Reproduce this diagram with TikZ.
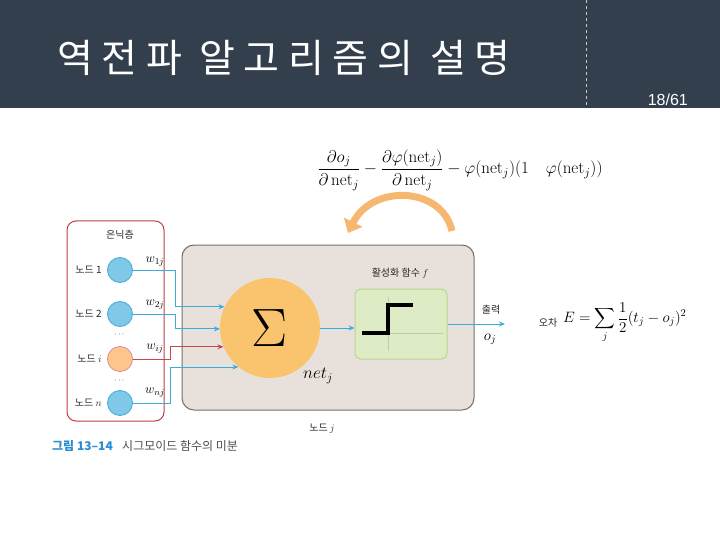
\RequirePackage{fix-cm}
\documentclass[tikz,border=0pt]{standalone}
\usepackage{fontspec}
\usepackage{amsmath}
\setsansfont{Liberation Sans}
\newfontfamily\kr{Noto Sans CJK KR}
\newfontfamily\krwide[LetterSpace=22]{Noto Sans CJK KR}
\usetikzlibrary{arrows.meta,positioning}
\definecolor{slate}{RGB}{52,63,77}
\definecolor{linkblue}{RGB}{60,170,218}
\definecolor{linkred}{RGB}{196,72,72}
\definecolor{hidred}{RGB}{190,62,72}
\definecolor{bodyfill}{RGB}{232,225,219}
\definecolor{bodydraw}{RGB}{120,110,100}
\definecolor{sumfill}{RGB}{250,196,110}
\definecolor{actfill}{RGB}{221,236,196}
\definecolor{actdraw}{RGB}{185,215,140}
\definecolor{arcorange}{RGB}{246,183,112}
\definecolor{capblue}{RGB}{40,140,210}

\tikzset{
  unit/.style={circle, minimum size=25pt, inner sep=0pt, draw=linkblue, fill=linkblue!65, line width=0.8pt},
  unitsel/.style={unit, draw=hidred!60, fill=orange!45},
  lbl/.style={font=\kr\fontsize{10}{12}\selectfont, text=black!85},
  wt/.style={font=\fontsize{13}{15}\selectfont},
  link/.style={linkblue, line width=0.9pt, -{Stealth[length=6pt,width=5pt]}},
  linkr/.style={link, linkred}
}

\begin{document}
\begin{tikzpicture}[x=1pt,y=-1pt]
\useasboundingbox (0,0) rectangle (720,540);
% header
\fill[slate] (0,0) rectangle (720,108);
\draw[dashed, white!70!slate] (586,0) -- (586,108);
\node[anchor=west, text=white, font=\krwide\fontsize{39}{41}\selectfont, inner sep=0pt] (title) at (57,58) {역전파 알고리즘의 설명};
\node[anchor=base east, text=white, font=\sffamily\fontsize{16}{18}\selectfont, inner sep=0pt] (page) at (688,106) {18/61};

% derivative
\node[font=\fontsize{17}{19}\selectfont] (deriv) at (460,170)
  {$\dfrac{\partial o_j}{\partial\,\mathrm{net}_j} - \dfrac{\partial\varphi(\mathrm{net}_j)}{\partial\,\mathrm{net}_j} - \varphi(\mathrm{net}_j)(1\quad \varphi(\mathrm{net}_j))$};
\coordinate (arcS) at (452,231);
\coordinate (arcE) at (348,233);
\draw[arcorange, line width=7pt, -{Triangle[length=12pt,width=20pt]}] (arcS) .. controls (442,186) and (372,184) .. (arcE);

% hidden layer
\draw[hidred, line width=1pt, rounded corners=9pt] (67,221) rectangle (164,421);
\node[lbl] (hid) at (120,235) {은닉층};
\node[unit] (n1) at (120,270) {};
\node[unit] (n2) at (120,314) {};
\node[unitsel] (ni) at (120,359) {};
\node[unit] (nn) at (120,403) {};
\node[lbl, left=2pt of n1] (l1) {노드 1};
\node[lbl, left=2pt of n2] (l2) {노드 2};
\node[lbl, left=2pt of ni] (li) {노드 $i$};
\node[lbl, left=2pt of nn] (ln) {노드 $n$};
\node[font=\footnotesize] (d1) at (120,335) {$\cdots$};
\node[font=\footnotesize] (d2) at (120,381) {$\cdots$};
\node[wt] (w1) at (155,262) {$w_{1j}$};
\node[wt] (w2) at (155,305) {$w_{2j}$};
\node[wt] (wi) at (155,349) {$w_{ij}$};
\node[wt] (wn) at (155,393) {$w_{nj}$};

% node j
\draw[bodydraw, fill=bodyfill, line width=1pt, rounded corners=12pt] (182,245) rectangle (474,410);
\node[circle, fill=sumfill, minimum size=100pt, inner sep=0pt, font=\fontsize{54}{56}\selectfont] (sum) at (270,328) {$\Sigma$};
\node[font=\fontsize{17}{19}\selectfont] (net) at (318,376) {$net_j$};
\node[draw=actdraw, fill=actfill, line width=1pt, rounded corners=6pt, minimum width=92pt, minimum height=70pt] (act) at (401,324) {};
\draw[actdraw!80!black!60, line width=0.6pt] (362,333) -- (443,333) (388,297) -- (388,351);
\draw[black, line width=4pt] (362,333) -- (388,333) -- (388,305) -- (413,305);
\node[lbl] (actl) at (400,273) {활성화 함수 $f$};
\node[lbl] (nodej) at (322,429) {노드 $j$};

% links
\draw[link] (n1.east) -- ++(43,0) |- (sum.155);
\draw[link] (n2.east) -- ++(43,0) |- (sum.181);
\draw[linkr] (ni.east) -- ++(38,0) |- (sum.202);
\draw[link] (nn.east) -- ++(38,0) |- (sum.231);
\draw[link] (sum.east) -- (act.west |- sum.east);
\coordinate (out) at (505,324);
\draw[link] (act.east) -- (out);
\node[lbl] (outl) at (491,310) {출력};
\node[font=\fontsize{15}{17}\selectfont] (oj) at (490,339) {$o_j$};

% error
\node[lbl] (errl) at (548,323) {오차};
\node[anchor=west, font=\fontsize{15}{17}\selectfont, inner sep=0pt] (err) at (563,323)
  {$E=\displaystyle\sum_j \frac{1}{2}(t_j-o_j)^2$};

% caption
\node[anchor=west, font=\kr\bfseries\fontsize{12}{14}\selectfont, text=capblue, inner sep=0pt] (capn) at (52,446) {그림 13–14};
\node[anchor=west, font=\kr\fontsize{12}{14}\selectfont, text=black!70, inner sep=0pt, right=9pt of capn] (capt) {시그모이드 함수의 미분};
\end{tikzpicture}
\end{document}
